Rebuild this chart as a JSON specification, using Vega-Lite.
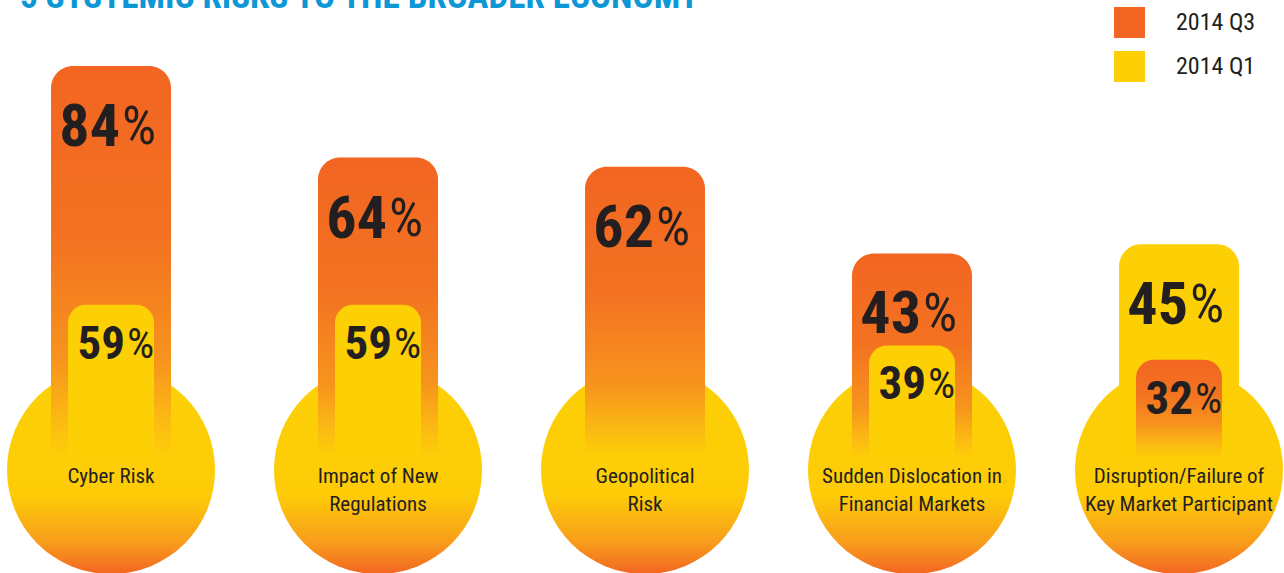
{
  "$schema": "https://vega.github.io/schema/vega-lite/v6.json",
  "width": 1284,
  "height": 573,
  "autosize": {"type": "none"},
  "padding": 0,
  "background": "white",
  "config": {
    "view": {"stroke": null},
    "font": "Roboto Condensed, Noto Sans Condensed, Liberation Sans Narrow, DejaVu Sans Condensed, sans-serif"
  },
  "title": {
    "text": "5 SYSTEMIC RISKS TO THE BROADER ECONOMY",
    "anchor": "start",
    "frame": "group",
    "orient": "top",
    "fontSize": 35,
    "fontWeight": "bold",
    "font": "Roboto Condensed, Noto Sans Condensed, Liberation Sans Narrow, DejaVu Sans Condensed, sans-serif",
    "color": "#0E97D5",
    "offset": -43,
    "baseline": "alphabetic",
    "dx": 20
  },
  "data": {
    "values": [
      {"category": "Cyber Risk", "period": "2014 Q3", "value": 84},
      {"category": "Cyber Risk", "period": "2014 Q1", "value": 59},
      {"category": "Impact of New\nRegulations", "period": "2014 Q3", "value": 64},
      {"category": "Impact of New\nRegulations", "period": "2014 Q1", "value": 59},
      {"category": "Geopolitical\nRisk", "period": "2014 Q3", "value": 62},
      {"category": "Sudden Dislocation in\nFinancial Markets", "period": "2014 Q3", "value": 43},
      {"category": "Sudden Dislocation in\nFinancial Markets", "period": "2014 Q1", "value": 39},
      {"category": "Disruption/Failure of\nKey Market Participant", "period": "2014 Q3", "value": 32},
      {"category": "Disruption/Failure of\nKey Market Participant", "period": "2014 Q1", "value": 45}
    ]
  },
  "encoding": {
    "x": {
      "field": "category",
      "type": "nominal",
      "sort": null,
      "scale": {"type": "point", "range": [111, 1179], "padding": 0},
      "axis": null
    }
  },
  "layer": [
    {
      "layer": [
        {
          "transform": [{"filter": "datum.period == '2014 Q3'"}],
          "mark": {
            "type": "circle",
            "size": 43264,
            "opacity": 1,
            "color": {
              "gradient": "linear",
              "x1": 0, "y1": 0, "x2": 0, "y2": 1,
              "stops": [
                {"offset": 0, "color": "#FDD005"},
                {"offset": 0.62, "color": "#FDCC07"},
                {"offset": 0.85, "color": "#F89C1C"},
                {"offset": 1, "color": "#F26522"}
              ]
            }
          },
          "encoding": {
            "y": {"datum": -4.4, "type": "quantitative", "scale": {"domain": [0, 100], "range": [450, -7]}, "axis": null}
          }
        },
        {
          "transform": [
            {"joinaggregate": [{"op": "max", "field": "value", "as": "maxv"}], "groupby": ["category"]},
            {"filter": "datum.value == datum.maxv"}
          ],
          "mark": {"type": "bar", "width": 120, "cornerRadiusTopLeft": 22, "cornerRadiusTopRight": 22},
          "encoding": {
            "y": {"field": "value", "type": "quantitative", "scale": {"domain": [0, 100], "range": [450, -7]}, "axis": null},
            "y2": {"datum": -2},
            "fill": {
              "condition": {
                "test": "datum.period == '2014 Q3'",
                "value": {
                  "gradient": "linear",
                  "x1": 0, "y1": 0, "x2": 0, "y2": 1,
                  "stops": [
                    {"offset": 0, "color": "#F26522"},
                    {"offset": 0.45, "color": "#F37321"},
                    {"offset": 0.75, "color": "#F7941D"},
                    {"offset": 0.9, "color": "#FBBA13"},
                    {"offset": 1, "color": "#FDD005"}
                  ]
                }
              },
              "value": "#FDD005"
            }
          }
        },
        {
          "transform": [{"filter": "datum.period == '2014 Q3'"}],
          "mark": {"type": "text", "baseline": "top", "align": "center", "fontSize": 21, "lineHeight": 28, "lineBreak": "\n", "color": "#231F20"},
          "encoding": {
            "y": {"datum": -3.5, "type": "quantitative", "scale": {"domain": [0, 100], "range": [450, -7]}, "axis": null},
            "text": {"field": "category"}
          }
        },
        {
          "transform": [
            {"joinaggregate": [{"op": "max", "field": "value", "as": "maxv"}], "groupby": ["category"]},
            {"filter": "datum.value == datum.maxv"}
          ],
          "mark": {"type": "text", "align": "right", "baseline": "middle", "dx": 9, "dy": 62, "fontSize": 60, "fontWeight": "bold", "color": "#231F20"},
          "encoding": {
            "y": {"field": "value", "type": "quantitative", "scale": {"domain": [0, 100], "range": [450, -7]}, "axis": null},
            "text": {"field": "value"}
          }
        },
        {
          "transform": [
            {"joinaggregate": [{"op": "max", "field": "value", "as": "maxv"}], "groupby": ["category"]},
            {"filter": "datum.value == datum.maxv"}
          ],
          "mark": {"type": "text", "align": "left", "baseline": "middle", "dx": 11, "dy": 62, "fontSize": 54, "fontWeight": "normal", "color": "#231F20"},
          "encoding": {
            "y": {"field": "value", "type": "quantitative", "scale": {"domain": [0, 100], "range": [450, -7]}, "axis": null},
            "text": {"value": "%"}
          }
        }
      ]
    },
    {
      "transform": [
        {"joinaggregate": [{"op": "max", "field": "value", "as": "maxv"}], "groupby": ["category"]},
        {"filter": "datum.value < datum.maxv"}
      ],
      "layer": [
        {
          "mark": {"type": "bar", "width": 86, "cornerRadiusTopLeft": 18, "cornerRadiusTopRight": 18},
          "encoding": {
            "y": {"field": "value", "type": "quantitative", "scale": {"domain": [0, 100], "range": [425, 221]}, "axis": null},
            "y2": {"datum": -17},
            "fill": {
              "condition": {
                "test": "datum.period == '2014 Q3'",
                "value": {
                  "gradient": "linear",
                  "x1": 0, "y1": 0, "x2": 0, "y2": 1,
                  "stops": [
                    {"offset": 0, "color": "#F26522"},
                    {"offset": 0.35, "color": "#F37321"},
                    {"offset": 0.65, "color": "#F7941D"},
                    {"offset": 0.85, "color": "#FBBA13"},
                    {"offset": 1, "color": "#FDD005"}
                  ]
                }
              },
              "value": "#FDD005"
            }
          }
        },
        {
          "mark": {"type": "text", "align": "right", "baseline": "middle", "dx": 14, "dy": 40, "fontSize": 47, "fontWeight": "bold", "color": "#231F20"},
          "encoding": {
            "y": {"field": "value", "type": "quantitative", "scale": {"domain": [0, 100], "range": [425, 221]}, "axis": null},
            "text": {"field": "value"}
          }
        },
        {
          "mark": {"type": "text", "align": "left", "baseline": "middle", "dx": 16, "dy": 40, "fontSize": 43, "fontWeight": "normal", "color": "#231F20"},
          "encoding": {
            "y": {"field": "value", "type": "quantitative", "scale": {"domain": [0, 100], "range": [425, 221]}, "axis": null},
            "text": {"value": "%"}
          }
        }
      ]
    },
    {
      "mark": {"type": "square", "size": 0, "filled": true},
      "encoding": {
        "color": {
          "field": "period",
          "type": "nominal",
          "scale": {"domain": ["2014 Q3", "2014 Q1"], "range": ["#F26522", "#FDD005"]},
          "legend": {
            "orient": "none",
            "legendX": 1114,
            "legendY": 7,
            "title": null,
            "padding": 0,
            "symbolType": "square",
            "symbolSize": 961,
            "symbolStrokeWidth": 0,
            "symbolOpacity": 1,
            "labelFontSize": 24,
            "labelFont": "Roboto Condensed, Noto Sans Condensed, Liberation Sans Narrow, DejaVu Sans Condensed, sans-serif",
            "labelColor": "#231F20",
            "labelOffset": 31,
            "rowPadding": 13
          }
        }
      }
    }
  ],
  "resolve": {"scale": {"y": "independent"}}
}
